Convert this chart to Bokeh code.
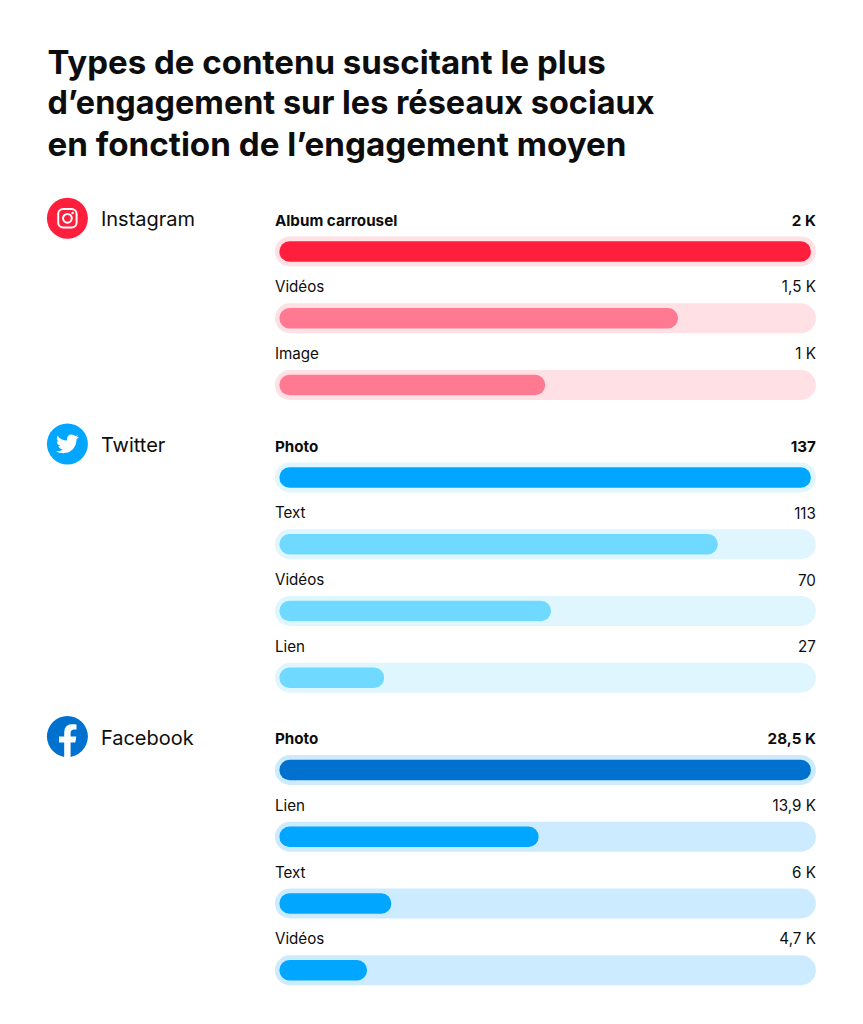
from bokeh.plotting import figure
from bokeh.models import Range1d
from bokeh.core.properties import value
from bokeh.embed import file_html
from bokeh.resources import INLINE

# ---- data ----
title_lines = ["Types de contenu suscitant le plus",
               "d’engagement sur les réseaux sociaux",
               "en fonction de l’engagement moyen"]
platforms = ["Instagram", "Twitter", "Facebook"]
instagram_types = ["Album carrousel", "Vidéos", "Image"]
instagram_values = [2000, 1500, 1000]
instagram_labels = ["2 K", "1,5 K", "1 K"]
twitter_types = ["Photo", "Text", "Vidéos", "Lien"]
twitter_values = [137, 113, 70, 27]
twitter_labels = ["137", "113", "70", "27"]
facebook_types = ["Photo", "Lien", "Text", "Vidéos"]
facebook_values = [28500, 13900, 6000, 4700]
facebook_labels = ["28,5 K", "13,9 K", "6 K", "4,7 K"]

# ---- layout / style ----
W, H = 847, 1008
DX, DY = 0.6, 1.0
BAR_X0, BAR_X1 = 279.5, 811.0
TRACK_X0, TRACK_X1 = 275.0, 816.0
STEP = 66.75
FONT = "Inter"
INK = "#0d0d0d"
groups = [
    dict(name=platforms[0], types=instagram_types, vals=instagram_values, labs=instagram_labels,
         y0=220.5, icon_y=218.8, track="#FFE0E5", top="#FF1F3D", rest="#FF7A90", icon="#FF1F3D"),
    dict(name=platforms[1], types=twitter_types, vals=twitter_values, labs=twitter_labels,
         y0=446.5, icon_y=444.5, track="#E0F6FF", top="#00A6FF", rest="#6FD9FF", icon="#00A6FF"),
    dict(name=platforms[2], types=facebook_types, vals=facebook_values, labs=facebook_labels,
         y0=739.0, icon_y=737.0, track="#CCEBFF", top="#0071CE", rest="#00A6FF", icon="#0071CE"),
]

p = figure(width=W, height=H, output_backend="svg", toolbar_location=None,
           x_range=Range1d(DX, W + DX), y_range=Range1d(H + DY, DY),
           x_axis_type=None, y_axis_type=None, min_border=0)
p.outline_line_color = None
p.grid.visible = False
p.background_fill_color = "white"
p.border_fill_color = "white"


def text(x, y, s, size, align="left", bold=False):
    p.text([x], [y], text=[s], text_font=value(FONT), text_font_size=f"{size}px",
           text_align=align, text_baseline="middle", text_color=INK,
           text_font_style="bold" if bold else "normal")


title_sizes = [33.0, 32.4, 33.2]
for i, line in enumerate(title_lines):
    text(47.5, 62 + i * 41.3, line, title_sizes[i], bold=True)

for k, g in enumerate(groups):
    mx = max(g["vals"])
    span = BAR_X1 - BAR_X0
    rname = f"r{k}"
    p.extra_x_ranges[rname] = Range1d((DX - BAR_X0) / span * mx, (W + DX - BAR_X0) / span * mx)
    for j, (t, v, lab) in enumerate(zip(g["types"], g["vals"], g["labs"])):
        ly = g["y0"] + j * STEP
        cy = ly + 31.5
        first = j == 0
        text(275, ly, t, 15.2, bold=first)
        text(816, ly, lab, 15.2, align="right", bold=first)
        p.hbar(y=[cy], height=30, left=[TRACK_X0], right=[TRACK_X1], color=g["track"],
               line_color=None, border_radius=15)
        p.hbar(y=[cy], height=20.5, left=[0], right=[v], x_range_name=rname,
               color=g["top"] if first else g["rest"], line_color=None, border_radius=10)
    text(101, g["icon_y"] + 1, g["name"], 20)
    p.circle([67.5], [g["icon_y"]], radius=20.5, color=g["icon"], line_color=None)

# Instagram icon
ix, iy = 67.5, groups[0]["icon_y"]
p.quad(left=[ix - 9.2], right=[ix + 9.2], top=[iy - 9.2], bottom=[iy + 9.2], fill_color=None,
       line_color="white", line_width=2, border_radius=5)
p.circle([ix], [iy], radius=4.4, fill_color=None, line_color="white", line_width=2)
p.circle([ix + 5.2], [iy - 5.2], radius=1.25, color="white", line_color=None)

# Twitter bird
bird = [(23.95,4.57),(21.13,5.35),(23.29,2.62),(20.16,3.81),(19.3,3.0),(17.6,2.25),(15.7,2.15),(13.8,2.75),
        (12.3,4.3),(11.6,6.3),(11.78,8.29),(8.5,8.0),(5.3,6.9),(3.2,5.1),(1.64,3.16),(0.97,5.64),(1.2,7.4),
        (1.9,8.7),(3.16,9.73),(0.93,9.12),(0.93,9.18),(1.25,11.2),(2.5,12.9),(4.88,14.0),(2.67,14.09),
        (3.6,16.0),(5.2,17.2),(7.27,17.5),(4.3,19.2),(1.17,19.6),(0,19.54),(3.4,21.2),(7.56,21.75),
        (13.56,20.48),(17.95,17.19),(20.64,12.69),(21.55,7.76),(21.54,7.13),(24,4.59)]
s = 0.96
by = groups[1]["icon_y"]
p.patch([67.5 + (a - 12) * s for a, b in bird], [by + (b - 12) * s for a, b in bird], color="white", line_color=None)

# Facebook f
ff = [(10.125,24),(10.125,15.54),(7.078,15.54),(7.078,12.07),(10.125,12.07),(10.125,9.43),(10.5,7.3),(11.6,5.8),
      (13.0,5.0),(14.66,4.76),(16.0,4.8),(17.34,4.995),(17.34,7.95),(15.83,7.95),(14.7,8.2),(14.05,8.9),(13.87,9.82),
      (13.87,12.07),(17.2,12.07),(16.67,15.54),(13.87,15.54),(13.87,24)]
s = 41 / 24
fy = groups[2]["icon_y"]
p.patch([67.5 + (a - 12) * s for a, b in ff], [fy + (b - 12) * s for a, b in ff], color="white", line_color=None)

open("out.html", "w").write(file_html(p, INLINE))
